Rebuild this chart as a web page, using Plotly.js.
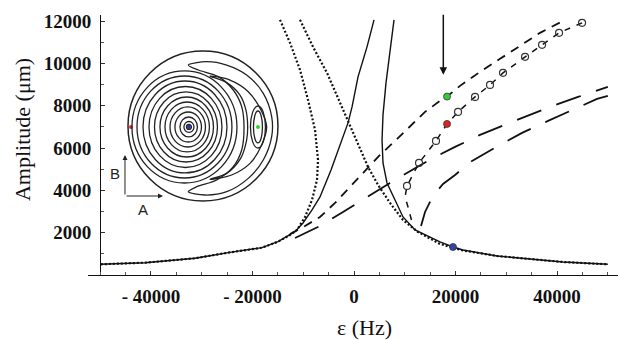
<!DOCTYPE html>
<html>
<head>
<meta charset="utf-8">
<script src="https://cdn.plot.ly/plotly-3.0.1.min.js"></script>
<style>html,body{margin:0;padding:0;background:#fff;}#chart{width:618px;height:340px;}</style>
</head>
<body>
<div id="chart"></div>
<script>
// ---- main response curves (epsilon in Hz, amplitude in um) ----
const SL_eps = [-50000,-41170,-31320,-24820,-18120,-14970,-11620,-10050,-8270,-6700,-4530,-2760,-1180,-390,790,2560,3940];
const SL_amp = [506,582,790,1055,1291,1575,2048,2459,3075,3689,4967,6149,7190,7946,9365,10784,12062];

const SR_eps = [7880,7090,6300,5710,5520,5710,6500,8080,9650,12020,16940,19500,21470,28170,34670,41170,50000];
const SR_amp = [12062,10643,9082,7568,6386,5298,4352,3548,2743,2129,1561,1324,1183,899,757,615,506];

const DL_eps = [-14580,-12610,-10640,-9060,-7680,-7090,-7290,-8270,-9650,-11230,-12610,-14970,-18120,-24820,-31320,-41170,-50000];
const DL_amp = [12062,10974,9697,8278,6859,5440,4494,3548,2743,2129,1892,1575,1291,1055,790,582,506];

const DR_eps = [-10640,-8080,-5320,-3150,-1380,790,2760,4730,7090,9650,12610,16940,19500,21470,28170,34670,41170,50000];
const DR_amp = [12062,10784,9555,8372,7332,6149,5108,4257,3406,2602,2034,1466,1277,1159,899,757,615,506];

const D1_eps = [-12610,-9650,-6700,-3740,-790,2170,5120,8080,11030,13990,16940,18320,20880,24820,28760,32700,36640,41570];
const D1_amp = [1939,2318,2743,3406,4162,4919,5676,6338,7000,7710,8230,8434,8940,9602,10217,10832,11447,12062];

const D2_eps = [-11620,-6700,-2170,2560,7090,11430,15560,19900,24820,30140,34670,39200,44130,50000];
const D2_amp = [1750,2318,2980,3689,4352,4967,5534,6054,6622,7142,7568,7994,8419,8892];

const D3_eps = [13200,13990,15560,17530,19900,23250,28760,33100,38220,42950,47870,50000];
const D3_amp = [2318,2980,3737,4304,4730,5392,6149,6717,7284,7805,8325,8467];

const C_eps = [44920,40390,37040,33690,29350,26790,23840,20490,18320,16150,12810,10440,10050,10640,11620];
const C_amp = [11920,11447,10879,10311,9555,8987,8419,7710,7142,6338,5298,4210,3689,3216,2318];

const circ_eps = [44920,40390,37040,33690,29350,26790,23840,20490,16150,12810,10440];
const circ_amp = [11920,11447,10879,10311,9555,8987,8419,7710,6338,5298,4210];

const pt_names = ['green','red','blue'];
const pt_eps = [18320,18320,19500];
const pt_amp = [8434,7142,1324];

const arrow_eps = 17590, arrow_tip = 9460, arrow_tail = 12370;

const xTickVals = [-40000,-20000,0,20000,40000];
const xTickText = ['- 40000','- 20000','0','20000','40000'];
const yTickVals = [2000,4000,6000,8000,10000,12000];
const yTickText = ['2000','4000','6000','8000','10000','12000'];

// ---- inset phase portrait (units of disk radius) ----
const blueCenter = [-0.187,-0.013];
const ringLeft  = [0.033,0.067,0.12,0.187,0.253,0.32,0.387,0.46,0.533,0.613,0.693,0.76];
const ringRight = [0.033,0.067,0.113,0.167,0.22,0.273,0.327,0.38,0.44,0.507,0.573,0.64];
const ringHalfH = [0.033,0.073,0.133,0.2,0.267,0.333,0.4,0.467,0.54,0.613,0.68,0.747];

const crescentA_u = [-0.196,0.049,0.316,0.582,0.804,0.916,0.916,0.804,0.604,0.316,0.027,-0.196,-0.084,0.182,0.404,0.516,0.547,0.516,0.404,0.204,-0.062,-0.196];
const crescentA_v = [0.813,0.858,0.813,0.68,0.436,0.124,-0.142,-0.453,-0.698,-0.876,-0.92,-0.876,-0.809,-0.72,-0.542,-0.32,-0.009,0.258,0.48,0.658,0.747,0.813];
const crescentB_u = [0.093,0.36,0.604,0.773,0.849,0.782,0.627,0.382,0.093,0.316,0.502,0.582,0.596,0.573,0.493,0.316,0.093];
const crescentB_v = [0.667,0.613,0.458,0.213,-0.009,-0.253,-0.498,-0.653,-0.711,-0.631,-0.431,-0.187,-0.009,0.213,0.413,0.578,0.667];

const greenCenter = [0.733,-0.013];
const greenHalfW = [0.06,0.1];
const greenHalfH = [0.213,0.28];

const inset_u = [-0.96,-0.187,0.733];
const inset_v = [-0.013,-0.013,-0.013];
const inset_col = ['#ee2222','#2233cc','#22dd22'];

const ptColors = {green:'#33cc33', red:'#dd2222', blue:'#3344aa'};

const ink = '#111';
const traces = [];
function line(x,y,dash,w){ traces.push({x:x,y:y,mode:'lines',type:'scatter',line:{color:ink,width:w,dash:dash},hoverinfo:'skip'}); }
line(SL_eps,SL_amp,'solid',1.4);
line(SR_eps,SR_amp,'solid',1.4);
line(DL_eps,DL_amp,'2px,2px',2.2);
line(DR_eps,DR_amp,'2px,2px',2.2);
line(D1_eps,D1_amp,'9px,7px',1.8);
line(D2_eps,D2_amp,'26px,16px',1.8);
line(D3_eps,D3_amp,'26px,16px',1.8);
line(C_eps,C_amp,'6px,7px',1.5);
traces.push({x:circ_eps,y:circ_amp,mode:'markers',type:'scatter',
  marker:{symbol:'circle-open',size:7,color:'#333',line:{width:1.2,color:'#333'}},hoverinfo:'skip'});
traces.push({x:pt_eps,y:pt_amp,mode:'markers',type:'scatter',
  marker:{size:7,color:pt_names.map(n=>ptColors[n]),line:{width:0.8,color:'#333'}},hoverinfo:'skip'});

// inset traces
function cres(u,v){ traces.push({x:u,y:v,xaxis:'x2',yaxis:'y2',mode:'lines',type:'scatter',
  line:{color:'#222',width:1.3,shape:'spline',smoothing:0.9},hoverinfo:'skip'}); }
cres(crescentA_u,crescentA_v);
cres(crescentB_u,crescentB_v);
traces.push({x:inset_u,y:inset_v,xaxis:'x2',yaxis:'y2',mode:'markers',type:'scatter',
  marker:{size:4,color:inset_col},hoverinfo:'skip'});

const shapes = [];
shapes.push({type:'circle',xref:'x2',yref:'y2',x0:-1,x1:1,y0:-1,y1:1,line:{color:'#222',width:1.5}});
ringLeft.forEach((L,i)=>{
  shapes.push({type:'circle',xref:'x2',yref:'y2',
    x0:blueCenter[0]-L,x1:blueCenter[0]+ringRight[i],
    y0:blueCenter[1]-ringHalfH[i],y1:blueCenter[1]+ringHalfH[i],
    line:{color:'#222',width:1.3}});
});
greenHalfW.forEach((w,i)=>{
  shapes.push({type:'circle',xref:'x2',yref:'y2',
    x0:greenCenter[0]-w,x1:greenCenter[0]+w,y0:greenCenter[1]-greenHalfH[i],y1:greenCenter[1]+greenHalfH[i],
    line:{color:'#222',width:1.3}});
});

const serif = 'Liberation Serif, Times New Roman, serif';
const sans = 'Liberation Sans, Arial, sans-serif';
const annotations = [
  {xref:'paper',yref:'paper',x:-0.1226,y:0.5577,text:'Amplitude (μm)',textangle:-90,showarrow:false,
   font:{family:serif,size:22,color:ink},xanchor:'center',yanchor:'middle'},
  {xref:'paper',yref:'paper',x:0.5226,y:-0.2038,text:'ε (Hz)',showarrow:false,
   font:{family:serif,size:22,color:ink},xanchor:'center',yanchor:'middle'},
  {xref:'x',yref:'y',axref:'x',ayref:'y',x:arrow_eps,y:arrow_tip,ax:arrow_eps,ay:arrow_tail,text:'',
   showarrow:true,arrowhead:2,arrowsize:1,arrowwidth:1.5,arrowcolor:ink},
  {xref:'x2',yref:'y2',axref:'x2',ayref:'y2',x:-1.04,y:-0.387,ax:-1.04,ay:-0.933,text:'',
   showarrow:true,arrowhead:2,arrowsize:1,arrowwidth:1,arrowcolor:'#222'},
  {xref:'x2',yref:'y2',axref:'x2',ayref:'y2',x:-0.533,y:-0.933,ax:-1.04,ay:-0.933,text:'',
   showarrow:true,arrowhead:2,arrowsize:1,arrowwidth:1,arrowcolor:'#222'},
  {xref:'x2',yref:'y2',x:-1.173,y:-0.627,text:'B',showarrow:false,font:{family:sans,size:15,color:'#222'}},
  {xref:'x2',yref:'y2',x:-0.8,y:-1.107,text:'A',showarrow:false,font:{family:sans,size:15,color:'#222'}}
];

const tickFont = {family:serif,size:19,color:ink};
const layout = {
  width:618,height:340,margin:{l:88,r:0,t:15,b:65},
  paper_bgcolor:'#fff',plot_bgcolor:'rgba(0,0,0,0)',showlegend:false,
  xaxis:{range:[-52400,52000],showline:true,linecolor:ink,linewidth:1.3,showgrid:false,zeroline:false,
    tickmode:'array',tickvals:xTickVals,ticktext:xTickText.map(t=>'<b>'+t+'</b>'),
    ticks:'inside',ticklen:4,tickcolor:'#333',tickwidth:1,tickfont:tickFont,ticklabelstandoff:4,
    minor:{tickmode:'linear',tick0:0,dtick:5000,ticks:'inside',ticklen:3,tickcolor:'#555',showgrid:false}},
  yaxis:{range:[0,12290],anchor:'free',position:0.02264,showline:true,linecolor:ink,linewidth:1.3,showgrid:false,zeroline:false,
    tickmode:'array',tickvals:yTickVals,ticktext:yTickText.map(t=>'<b>'+t+'</b>'),
    ticks:'inside',ticklen:4,tickcolor:'#333',tickwidth:1,tickfont:tickFont,ticklabelstandoff:5,
    minor:{tickmode:'linear',tick0:0,dtick:1000,ticks:'inside',ticklen:3,tickcolor:'#555',showgrid:false}},
  xaxis2:{domain:[0.033,0.4009],range:[-1.3,1.3],visible:false,anchor:'y2'},
  yaxis2:{domain:[0.198,0.948],range:[-1.3,1.3],visible:false,anchor:'x2'},
  shapes:shapes,annotations:annotations
};
Plotly.newPlot('chart',traces,layout,{staticPlot:true,displayModeBar:false});
</script>
</body>
</html>
